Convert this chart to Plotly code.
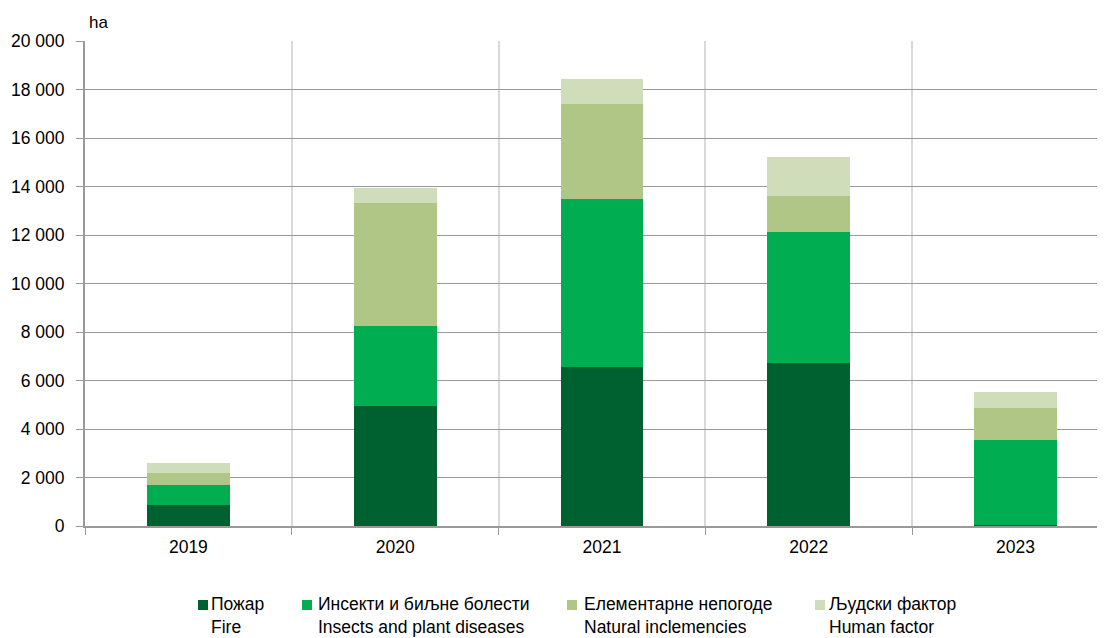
import plotly.graph_objects as go

years = ["2019", "2020", "2021", "2022", "2023"]
fire = [860, 4950, 6560, 6720, 40]
insects = [830, 3300, 6920, 5400, 3510]
natural = [500, 5070, 3920, 1490, 1320]
human = [410, 620, 1030, 1610, 660]

names = ["Пожар<br>Fire", "Инсекти и биљне болести<br>Insects and plant diseases",
         "Елементарне непогоде<br>Natural inclemencies", "Људски фактор<br>Human factor"]
colors = ["#006130", "#00AD50", "#AFC687", "#CFDDBA"]
series = [fire, insects, natural, human]

FONT = "Liberation Sans, Arial"

# the page body has an 8px margin; work in screen pixels and offset
OFF = 8
W, H = 1105 - OFF, 638 - OFF
# plot area in screen pixels
L, R, T, B = 85, 1105, 41, 526

def px(x):
    return (x - L) / (R - L)

def py(y):
    return (B - y) / (B - T)

fig = go.Figure()
for nm, col, vals in zip(names, colors, series):
    fig.add_trace(go.Bar(x=years, y=vals, name=nm, marker=dict(color=col, line=dict(width=0)),
                         width=0.40, showlegend=False))

# manual legend (symbols + two-line labels)
sym_x = [198, 302, 567, 815]
txt_x = [209, 316, 582, 827]
shapes = []
annotations = []
for nm, col, sx, tx in zip(names, colors, sym_x, txt_x):
    shapes.append(dict(type="rect", xref="paper", yref="paper",
                       x0=px(sx), x1=px(sx + 10), y0=py(610), y1=py(600),
                       fillcolor=col, line=dict(width=0)))
    annotations.append(dict(text=nm, xref="paper", yref="paper", x=px(tx), y=py(615),
                            xanchor="left", yanchor="middle", align="left", showarrow=False,
                            font=dict(family=FONT, size=17.5, color="#000000")))

annotations.append(dict(text="ha", xref="paper", yref="paper", x=px(87), y=py(23),
                        xanchor="left", yanchor="middle", showarrow=False,
                        font=dict(family=FONT, size=17, color="#000000")))

fig.update_layout(
    barmode="stack",
    width=W, height=H,
    margin=dict(l=L - OFF, r=0, t=T - OFF, b=H - (B - OFF), pad=0),
    plot_bgcolor="white", paper_bgcolor="white",
    font=dict(family=FONT, size=17, color="#000000"),
    separators=". ",
    showlegend=False,
    xaxis=dict(type="category", tickson="boundaries", showgrid=True, gridcolor="#D9D9D9",
               gridwidth=1.5, ticks="outside", ticklen=7, tickcolor="#999999",
               showline=True, linecolor="#999999", linewidth=2,
               range=[-0.5, 4.433], tickfont=dict(size=17.5), automargin=False,
               ticklabelstandoff=4),
    yaxis=dict(range=[0, 20000], tickvals=list(range(0, 20001, 2000)), tickformat=",d",
               showgrid=True, gridcolor="#999999", gridwidth=1.2,
               ticks="outside", ticklen=7, tickcolor="#999999",
               showline=True, linecolor="#999999", linewidth=2, zeroline=False,
               tickfont=dict(size=17.5), automargin=False, ticklabelstandoff=8),
    shapes=shapes,
    annotations=annotations,
)

fig.write_html("out.html")
